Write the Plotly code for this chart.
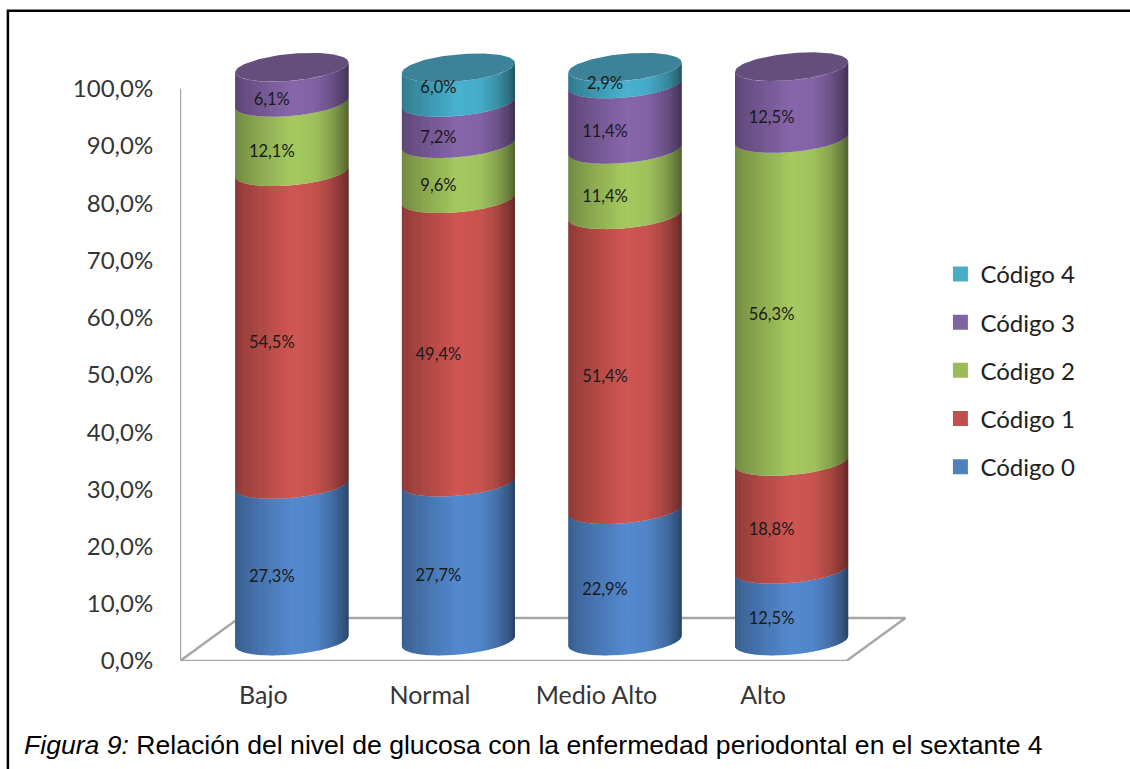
import numpy as np
import plotly.graph_objects as go

# Chart data: share of each periodontal code per glucose level (percent)
categories = ["Bajo", "Normal", "Medio Alto", "Alto"]
codigo_0 = [27.3, 27.7, 22.9, 12.5]
codigo_1 = [54.5, 49.4, 51.4, 18.8]
codigo_2 = [12.1, 9.6, 11.4, 56.3]
codigo_3 = [6.1, 7.2, 11.4, 12.5]
codigo_4 = [None, 6.0, 2.9, None]
series_names = ["Código 0", "Código 1", "Código 2", "Código 3", "Código 4"]
y_ticks = [0, 10, 20, 30, 40, 50, 60, 70, 80, 90, 100]

series_values = [codigo_0, codigo_1, codigo_2, codigo_3, codigo_4]
legend_colors = ["#4f81bd", "#c0504d", "#9bbb59", "#8064a2", "#4bacc6"]
body_colors = [(84, 138, 208), (208, 86, 82), (166, 202, 96), (136, 102, 172), (72, 178, 208)]
cap_colors = [None, None, None, (100, 78, 124), (60, 130, 152)]

# Canvas geometry
W, H = 1130, 769
PX_PER_CAT = 166.5
PX_PER_PCT = 5.72
LEFT, BOTTOM_Y = 180.0, 661.0
X_MIN, X_MAX = -0.5, 3.9
Y_MIN, Y_MAX = 0.0, 108.0
RIGHT = LEFT + (X_MAX - X_MIN) * PX_PER_CAT
TOP_Y = BOTTOM_Y - (Y_MAX - Y_MIN) * PX_PER_PCT

# Oblique projection of the cylinders, in axis units
DEPTH_X = 28.5 / PX_PER_CAT
DEPTH_Y = 20.0 / PX_PER_PCT
HEIGHT_SCALE = 1.0026
RADIUS_X = 56.5 / PX_PER_CAT
RADIUS_Y = 13.5 / PX_PER_PCT
TILT = 5.0 / PX_PER_PCT
FLOOR_DX = 59.0 / PX_PER_CAT
FLOOR_DY = 43.0 / PX_PER_PCT


def paper_x(px):
    return (px - LEFT) / (RIGHT - LEFT)


def paper_y(py):
    return (BOTTOM_Y - py) / (BOTTOM_Y - TOP_Y)


def rim_y(level, u, side=-1.0):
    """Height of the elliptical rim at stack level, for u in [-1, 1]."""
    return DEPTH_Y + level * HEIGHT_SCALE + TILT * u + side * RADIUS_Y * np.sqrt(np.clip(1 - u * u, 0, 1))


# Horizontal lighting across a cylinder
shade_u = [-1.0, -0.85, -0.5, 0.0, 0.4, 0.7, 0.9, 1.0]
shade_k = [0.68, 0.75, 0.86, 1.0, 0.96, 0.8, 0.62, 0.48]

N_STRIPS = 56
edges = np.sin(np.linspace(-np.pi / 2, np.pi / 2, N_STRIPS + 1))

fig = go.Figure()

# Gray wall and floor frame
floor_x = [X_MIN, X_MIN, None, X_MIN, 3.5, 3.5 + FLOOR_DX, X_MIN + FLOOR_DX, X_MIN]
floor_y = [100, 0, None, 0, 0, FLOOR_DY, FLOOR_DY, 0]
fig.add_trace(go.Scatter(x=floor_x, y=floor_y, mode="lines", showlegend=False, hoverinfo="skip",
                         line=dict(color="#a6a6a6", width=2.4)))

# Stack limits per category
stacks = []
for c in range(len(categories)):
    level = 0.0
    rows = []
    for s, vals in enumerate(series_values):
        v = vals[c]
        if v is None:
            continue
        rows.append((s, level, level + v))
        level += v
    stacks.append(rows)

# Cylinder bodies: one trace per series and shade band
for s in range(len(series_names)):
    base = np.array(body_colors[s], dtype=float)
    for i in range(N_STRIPS):
        u0, u1 = edges[i], edges[i + 1]
        um = 0.5 * (u0 + u1)
        u1x = min(u1 + 0.012, 1.0)  # slight overlap hides seams between bands
        xs, ys = [], []
        for c, rows in enumerate(stacks):
            for row_s, lo, hi in rows:
                if row_s != s:
                    continue
                cx = c + DEPTH_X
                px = [cx + RADIUS_X * u0, cx + RADIUS_X * u1x, cx + RADIUS_X * u1x, cx + RADIUS_X * u0, cx + RADIUS_X * u0, None]
                py = [rim_y(lo, u0), rim_y(lo, u1x), rim_y(hi, u1x), rim_y(hi, u0), rim_y(lo, u0), None]
                xs += px
                ys += py
        if not xs:
            continue
        k = float(np.interp(um, shade_u, shade_k))
        r, g, b = (base * k).astype(int)
        fig.add_trace(go.Scatter(x=xs, y=ys, mode="lines", fill="toself", fillcolor=f"rgb({r},{g},{b})",
                                 line=dict(width=0), showlegend=False, hoverinfo="skip"))

# Top caps
theta = np.linspace(0, 2 * np.pi, 121)
for c, rows in enumerate(stacks):
    s, _, hi = rows[-1]
    us = np.cos(theta)
    cap_x = c + DEPTH_X + RADIUS_X * us
    cap_y = DEPTH_Y + hi * HEIGHT_SCALE + TILT * us + RADIUS_Y * np.sin(theta)
    r, g, b = cap_colors[s]
    fig.add_trace(go.Scatter(x=cap_x, y=cap_y, mode="lines", fill="toself", fillcolor=f"rgb({r},{g},{b})",
                             line=dict(width=0), showlegend=False, hoverinfo="skip"))

# Value labels, placed slightly above each segment's midpoint
LABEL_DX = 8.5 / PX_PER_CAT
LABEL_DY = 5.0 / PX_PER_PCT
label_nudge = {(1, 4): 13.0 / PX_PER_PCT, (2, 4): 7.5 / PX_PER_PCT}
lab_x, lab_y, lab_t = [], [], []
for c, rows in enumerate(stacks):
    for s, lo, hi in rows:
        lab_x.append(c + LABEL_DX)
        lab_y.append(0.5 * (lo + hi) + LABEL_DY + label_nudge.get((c, s), 0.0))
        lab_t.append(f"{hi - lo:.1f}%".replace(".", ","))
fig.add_trace(go.Scatter(x=lab_x, y=lab_y, text=lab_t, mode="text", showlegend=False, hoverinfo="skip",
                         textposition="middle center",
                         textfont=dict(family="Lato", size=16.5, color="#1a1a1a")))

# Legend entries, top to bottom
for s in reversed(range(len(series_names))):
    fig.add_trace(go.Scatter(x=[None], y=[None], mode="markers", name=series_names[s], legendgroup=series_names[s],
                             marker=dict(symbol="square", size=15, color=legend_colors[s])))

fig.update_layout(
    width=W, height=H,
    margin=dict(l=LEFT, r=W - RIGHT, t=TOP_Y, b=H - BOTTOM_Y, pad=0, autoexpand=False),
    paper_bgcolor="white", plot_bgcolor="white",
    xaxis=dict(range=[X_MIN, X_MAX], tickvals=list(range(len(categories))), ticktext=categories,
               showgrid=False, zeroline=False, showline=False, ticks="outside", ticklen=12,
               tickcolor="rgba(0,0,0,0)", tickfont=dict(family="Lato", size=25, color="#353535")),
    yaxis=dict(range=[Y_MIN, Y_MAX], tickvals=y_ticks, ticktext=[f"{t:.1f}%".replace(".", ",") for t in y_ticks],
               showgrid=False, zeroline=False, showline=False, ticks="outside", ticklen=21,
               tickcolor="rgba(0,0,0,0)", tickfont=dict(family="Lato", size=24, color="#353535")),
    legend=dict(x=paper_x(940), y=paper_y(252), xanchor="left", yanchor="top", traceorder="grouped",
                tracegroupgap=14, itemwidth=30, font=dict(family="Lato", size=24, color="#202020"),
                bgcolor="rgba(0,0,0,0)"),
    showlegend=True,
    annotations=[dict(text="<i>Figura 9:</i> Relación del nivel de glucosa con la enfermedad periodontal en el sextante 4",
                      xref="paper", yref="paper", x=paper_x(22), y=paper_y(744.5), xanchor="left", yanchor="middle",
                      showarrow=False, font=dict(family="Liberation Sans", size=26.6, color="#000000"))],
    shapes=[dict(type="path", xref="paper", yref="paper",
                 path=f"M {paper_x(8)} {paper_y(769)} L {paper_x(8)} {paper_y(11)} L {paper_x(1130)} {paper_y(11)}",
                 line=dict(color="black", width=2.5))],
)

fig.write_html("out.html")
